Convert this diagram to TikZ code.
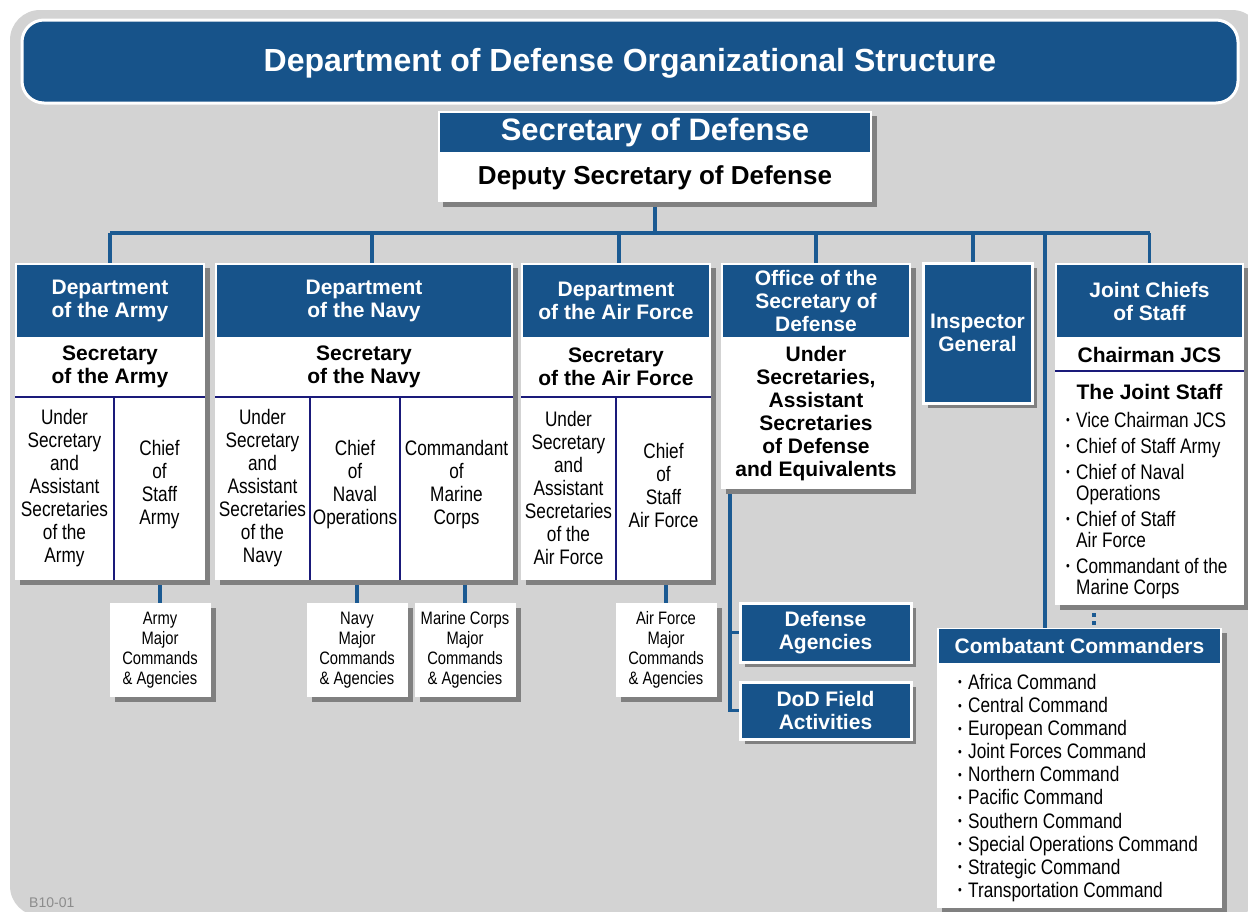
\documentclass[tikz,border=0pt]{standalone}
\usepackage{fontspec}
\setmainfont{Liberation Sans}
\newfontfamily\narrowfont[FakeStretch=0.82]{Liberation Sans}
\usetikzlibrary{shadows,backgrounds}

\definecolor{dodblue}{HTML}{17538A}
\definecolor{linkblue}{HTML}{1B5A92}
\definecolor{bggray}{HTML}{D3D3D3}
\definecolor{shadowgray}{HTML}{808080}
\definecolor{rulenavy}{HTML}{1A1A7A}

\newcommand\hdrfont{\bfseries\fontsize{21}{23}\selectfont}
\newcommand\bodyfont{\narrowfont\fontsize{21}{23}\selectfont}
\newcommand\cmdfont{\narrowfont\fontsize{18}{20}\selectfont}
\newcommand\itm{\makebox[10pt][l]{\raisebox{2.5pt}{\fontsize{13}{13}\selectfont\textbullet}}}

\tikzset{
  boxshadow/.style={drop shadow={shadow xshift=5pt, shadow yshift=-5pt, fill=shadowgray, opacity=1}},
  frame/.style={fill=white, inner sep=0pt, boxshadow},
  hdr/.style={fill=dodblue, text=white, inner sep=0pt, align=center, font=\hdrfont},
  sec/.style={inner sep=0pt, align=center, font=\hdrfont},
  col/.style={inner sep=0pt, align=center, font=\bodyfont},
  bluebox/.style={fill=dodblue, draw=white, line width=3pt, text=white, inner sep=0pt, align=center, font=\hdrfont, boxshadow},
  cmdbox/.style={frame, align=center, font=\cmdfont, minimum width=101pt, minimum height=94pt},
  listtxt/.style={inner sep=0pt, align=left, anchor=north west},
  link/.style={draw=linkblue, line width=3.5pt},
  rule/.style={draw=rulenavy, line width=1.2pt},
}

\begin{document}
\begin{tikzpicture}[x=1pt,y=-1pt]
\useasboundingbox (0,0) rectangle (1248,911);
\clip (0,0) rectangle (1248,911);

\node[hdr, draw=white, line width=3pt, rounded corners=22pt, minimum width=1216pt, minimum height=83pt,
      font=\bfseries\fontsize{32}{36}\selectfont] (title) at (630,61.5) {};
\node[text=white, inner sep=0pt, font=\bfseries\fontsize{32}{36}\selectfont] (titletxt) at (630,63) {Department of Defense Organizational Structure};

% top of the chart
\node[frame, minimum width=434pt, minimum height=91pt] (secbox) at (655,156.5) {};
\node[hdr, minimum width=430pt, minimum height=39pt, font=\bfseries\fontsize{31}{34}\selectfont] (secdef) at (655,132) {Secretary of Defense};
\node[sec, font=\bfseries\fontsize{26}{28}\selectfont] (depsec) at (655,178) {Deputy Secretary of Defense};

% departments
\node[frame, minimum width=190pt, minimum height=317pt] (army) at (110,421.5) {};
\node[hdr, minimum width=186pt, minimum height=72pt] (armyhd) at (110,301) {Department\\of the Army};
\node[sec] (armysec) at (110,367) {Secretary\\of the Army};
\draw[rule] (15,397) -- (205,397);
\draw[rule] (114,397) -- (114,580);
\node[col] (armyus) at (64.5,488) {Under\\Secretary\\and\\Assistant\\Secretaries\\of the\\Army};
\node[col] (armycos) at (159.5,485) {Chief\\of\\Staff\\Army};

\node[frame, minimum width=298pt, minimum height=317pt] (navy) at (364,421.5) {};
\node[hdr, minimum width=294pt, minimum height=72pt] (navyhd) at (364,301) {Department\\of the Navy};
\node[sec] (navysec) at (364,367) {Secretary\\of the Navy};
\draw[rule] (215,397) -- (513,397);
\draw[rule] (310,397) -- (310,580);
\draw[rule] (400,397) -- (400,580);
\node[col] (navyus) at (262.5,488) {Under\\Secretary\\and\\Assistant\\Secretaries\\of the\\Navy};
\node[col] (navycno) at (355,485) {Chief\\of\\Naval\\Operations};
\node[col] (navycmc) at (456.5,485) {Commandant\\of\\Marine\\Corps};

\node[frame, minimum width=190pt, minimum height=317pt] (airf) at (616,421.5) {};
\node[hdr, minimum width=186pt, minimum height=72pt] (airfhd) at (616,301) {Department\\of the Air Force};
\node[sec] (airfsec) at (616,367) {Secretary\\of the Air Force};
\draw[rule] (521,397) -- (711,397);
\draw[rule] (616,397) -- (616,580);
\node[col] (airfus) at (568.5,488) {Under\\Secretary\\and\\Assistant\\Secretaries\\of the\\Air Force};
\node[col] (airfcos) at (663.5,485) {Chief\\of\\Staff\\Air Force};

\node[frame, minimum width=190pt, minimum height=226pt] (osd) at (816,376) {};
\node[hdr, minimum width=186pt, minimum height=72pt] (osdhd) at (816,301) {Office of the\\Secretary of\\Defense};
\node[sec] (osdus) at (816,413.5) {Under\\Secretaries,\\Assistant\\Secretaries\\of Defense\\and Equivalents};

\node[bluebox, minimum width=109pt, minimum height=140pt] (ig) at (977.5,333) {Inspector\\General};

\node[frame, minimum width=189pt, minimum height=342pt] (jcs) at (1149.5,434) {};
\node[hdr, minimum width=185pt, minimum height=72pt] (jcshd) at (1149.5,301) {Joint Chiefs\\of Staff};
\node[sec] (cjcs) at (1149.5,355) {Chairman JCS};
\draw[rule] (1055,371) -- (1244,371);
\node[sec] (jstaff) at (1149.5,392) {The Joint Staff};
\node[listtxt, font=\narrowfont\fontsize{21}{21}\selectfont] (jslist) at (1066,412)
  {\itm Vice Chairman JCS\\[5pt]
   \itm Chief of Staff Army\\[5pt]
   \itm Chief of Naval\\\hspace*{10pt}Operations\\[5pt]
   \itm Chief of Staff\\\hspace*{10pt}Air Force\\[5pt]
   \itm Commandant of the\\\hspace*{10pt}Marine Corps};

% lower boxes
\node[cmdbox] (armymc) at (160,650) {Army\\Major\\Commands\\\& Agencies};
\node[cmdbox] (navymc) at (357,650) {Navy\\Major\\Commands\\\& Agencies};
\node[cmdbox] (marmc) at (465,650) {Marine Corps\\Major\\Commands\\\& Agencies};
\node[cmdbox] (airfmc) at (666,650) {Air Force\\Major\\Commands\\\& Agencies};

\node[bluebox, minimum width=171pt, minimum height=59pt] (agencies) at (825.5,632.5) {Defense\\Agencies};
\node[bluebox, minimum width=171pt, minimum height=57pt] (fieldact) at (825.5,710.5) {DoD Field\\Activities};

\node[frame, minimum width=285pt, minimum height=280pt] (cc) at (1079.5,768) {};
\node[hdr, minimum width=281pt, minimum height=34pt] (cchd) at (1079.5,646) {Combatant Commanders};
\node[listtxt, font=\narrowfont\fontsize{21}{23.1}\selectfont] (cclist) at (958,674)
  {\itm Africa Command\\
   \itm Central Command\\
   \itm European Command\\
   \itm Joint Forces Command\\
   \itm Northern Command\\
   \itm Pacific Command\\
   \itm Southern Command\\
   \itm Special Operations Command\\
   \itm Strategic Command\\
   \itm Transportation Command};

\node[anchor=west, inner sep=0pt, text=black!45, font=\fontsize{14}{16}\selectfont] (code) at (29,903) {B10-01};

\begin{pgfonlayer}{background}
\fill[bggray, rounded corners=30pt] (10,10) rectangle (1262,916);
\coordinate (trunkL) at (110,233);
\coordinate (trunkR) at (1150,233);
\coordinate (ccup) at (1045,233);
\draw[link] (secbox.south) -- (secbox.south |- trunkL);
\draw[link] (trunkL) -- (trunkR);
\draw[link] (army.north) -- (army.north |- trunkL);
\draw[link] ([xshift=8pt]navy.north) -- ([xshift=8pt]navy.north |- trunkL);
\draw[link] ([xshift=3pt]airf.north) -- ([xshift=3pt]airf.north |- trunkL);
\draw[link] (osd.north) -- (osd.north |- trunkL);
\draw[link] ([xshift=-4.5pt]ig.north) -- ([xshift=-4.5pt]ig.north |- trunkL);
\draw[link] (jcs.north) -- (jcs.north |- trunkL);
\draw[link] (ccup) -- (ccup |- cc.north);
\draw[link, dash pattern=on 4pt off 4pt] ([xshift=-55.5pt]jcs.south) -- ([xshift=-55.5pt]jcs.south |- cc.north);
\draw[link] (armymc.north) -- (armymc.north |- army.south);
\draw[link] (navymc.north) -- (navymc.north |- navy.south);
\draw[link] (marmc.north) -- (marmc.north |- navy.south);
\draw[link] (airfmc.north) -- (airfmc.north |- airf.south);
\coordinate (osdleg) at ([xshift=-86pt]osd.south);
\draw[link] (osdleg) |- (fieldact.west);
\draw[link] (osdleg |- agencies.west) -- (agencies.west);
\end{pgfonlayer}
\end{tikzpicture}
\end{document}
